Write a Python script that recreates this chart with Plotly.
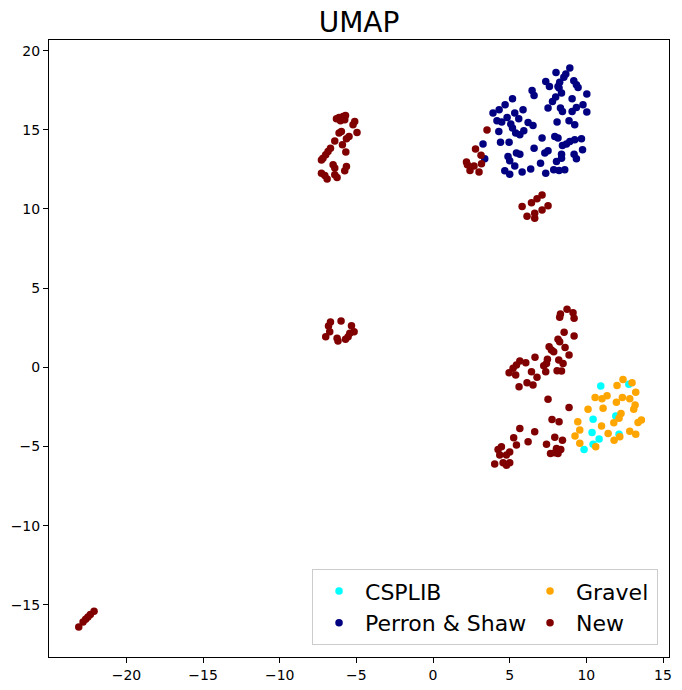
import plotly.graph_objects as go

# UMAP embedding coordinates
csplib_x = [10.94, 12.77, 10.44, 11.92, 10.37, 10.83, 10.44, 9.85, 12.13]
csplib_y = [-1.18, -1.06, -3.27, -3.08, -4.11, -4.53, -4.85, -5.18, -4.22]

perron_x = [8.92, 8.66, 8.53, 8.02, 7.35, 8.26, 8.15, 8.22, 7.59, 9.18,
            9.35, 9.46, 6.46, 6.59, 8.38, 8.00, 7.79, 10.03, 5.18, 9.07,
            9.78, 9.35, 9.07, 10.03, 7.50, 8.31, 8.44, 4.70, 4.31, 3.91,
            5.87, 5.33, 4.83, 5.59, 4.17, 4.48, 5.07, 5.18, 6.20, 6.52,
            8.09, 8.87, 9.24, 4.29, 5.39, 5.66, 5.92, 3.26, 4.40, 4.96,
            7.11, 7.94, 8.15, 9.68, 9.24, 8.92, 8.70, 8.44, 6.59, 7.50,
            7.29, 9.75, 5.44, 5.66, 4.89, 5.00, 8.38, 8.38, 9.20, 9.35,
            3.37, 8.05, 7.01, 5.33, 6.37, 5.81, 4.68, 5.00, 7.35, 7.87,
            8.22, 8.59]
perron_y = [18.90, 18.52, 18.31, 18.62, 18.05, 18.01, 17.74, 17.64, 17.74, 18.10,
            17.84, 17.67, 17.48, 17.17, 17.32, 17.07, 16.79, 17.26, 16.96, 16.96,
            16.58, 16.41, 16.16, 16.12, 16.37, 16.37, 16.16, 16.58, 16.26, 16.06,
            16.26, 16.06, 15.78, 15.70, 15.57, 15.49, 15.36, 15.11, 15.46, 15.27,
            15.49, 15.57, 15.32, 14.89, 14.79, 14.68, 14.94, 14.10, 14.22, 14.22,
            14.48, 14.58, 14.48, 14.43, 14.37, 14.26, 14.10, 14.01, 13.84, 13.67,
            13.53, 13.74, 13.53, 13.46, 13.31, 13.04, 13.46, 13.21, 13.46, 13.17,
            13.17, 13.00, 12.89, 12.72, 12.53, 12.33, 12.41, 12.20, 12.26, 12.47,
            12.43, 12.47]

gravel_x = [12.39, 12.98, 12.00, 13.22, 10.57, 11.02, 11.35, 12.35, 12.83, 11.96,
            13.18, 13.09, 11.09, 10.11, 12.26, 12.13, 9.44, 11.79, 13.59, 13.37,
            10.99, 9.57, 11.42, 12.83, 13.22, 9.26, 12.18, 11.81, 9.57, 10.61]
gravel_y = [-0.76, -0.97, -1.14, -1.58, -1.90, -1.98, -1.80, -1.90, -1.98, -2.21,
            -2.38, -2.65, -2.59, -2.65, -2.91, -3.22, -3.44, -3.50, -3.33, -3.48,
            -3.71, -3.96, -4.17, -4.03, -4.22, -4.34, -4.39, -4.60, -4.80, -5.02]

new_x = [
    # near the Perron & Shaw cloud
    3.52, 2.77, 3.13, 2.18, 2.24, 2.67, 3.16, 2.41, 3.00,
    7.11, 6.78, 6.42, 5.81, 7.50, 7.11, 6.63, 6.63, 6.13,
    # left cluster
    -6.13, -5.87, -5.71, -5.76, -6.30, -6.04, -5.11, -5.22, -4.96, -6.13,
    -5.98, -5.48, -5.65, -6.41, -5.91, -5.69, -6.69, -6.85, -7.00, -7.18,
    -7.28, -6.52, -6.41, -5.65, -5.76, -7.28, -7.06, -6.91, -6.41, -6.26,
    # middle cluster
    -6.69, -6.82, -6.74, -7.00, -6.00, -5.32, -5.15, -5.43, -5.54, -5.71,
    -6.26, -6.20,
    # lower right arm
    8.74, 9.13, 8.31, 8.26, 9.20, 8.55, 9.20, 8.15, 8.26, 8.61,
    7.57, 7.72, 7.87, 8.87, 6.65, 7.46, 7.40, 7.22, 8.20, 8.48,
    5.66, 6.05, 5.44, 5.22, 4.96, 5.39, 6.42, 6.78, 7.35, 8.09,
    8.38, 5.61, 6.13, 6.52, 7.50, 8.87, 7.76, 8.22, 5.66, 6.63,
    5.26, 6.20, 7.94, 8.44, 5.44, 7.40, 8.05, 8.33, 8.15, 7.94,
    7.66, 4.46, 4.24, 4.35, 5.00, 4.79, 4.02, 4.57, 4.79, 5.00,
    # far bottom left
    -23.11, -22.83, -22.66, -22.51, -22.35, -22.11,
]
new_y = [
    14.98, 13.78, 13.40, 12.96, 12.79, 12.72, 12.85, 12.43, 12.33,
    10.89, 10.64, 10.40, 10.15, 10.20, 9.94, 9.73, 9.42, 9.54,
    15.78, 15.84, 15.90, 15.63, 15.70, 15.57, 15.52, 15.32, 14.83, 14.79,
    14.89, 14.58, 14.43, 14.30, 14.05, 13.59, 13.84, 13.63, 13.42, 13.21,
    13.10, 12.79, 12.58, 12.68, 12.41, 12.26, 12.11, 11.90, 12.16, 11.98,
    2.86, 2.61, 2.25, 1.93, 2.93, 2.63, 2.25, 2.15, 1.93, 1.77,
    1.83, 1.66,
    3.67, 3.45, 3.37, 3.16, 3.10, 2.21, 1.98, 1.77, 1.62, 1.26,
    1.30, 1.09, 0.99, 0.78, 0.63, 0.51, 0.25, 0.10, 0.46, 0.25,
    0.40, 0.29, 0.15, -0.06, -0.34, -0.49, -0.28, -0.63, -0.28, -0.21,
    -0.23, -1.23, -0.97, -1.12, -2.02, -2.53, -3.29, -3.44, -3.86, -4.07,
    -4.45, -4.70, -4.42, -4.60, -4.91, -4.85, -5.12, -5.18, -5.44, -5.40,
    -5.44, -5.02, -5.18, -5.54, -5.34, -5.54, -6.11, -6.03, -6.18, -6.03,
    -16.40, -16.08, -15.91, -15.76, -15.61, -15.40,
]

x_ticks = [-20, -15, -10, -5, 0, 5, 10, 15]
y_ticks = [-15, -10, -5, 0, 5, 10, 15, 20]

# name, x, y, colour, legend rank (legend fills column by column), legend width
groups = [
    ("CSPLIB", csplib_x, csplib_y, "cyan", 1, 154),
    ("Perron & Shaw", perron_x, perron_y, "navy", 3, 154),
    ("Gravel", gravel_x, gravel_y, "orange", 2, 76),
    ("New", new_x, new_y, "maroon", 4, 76),
]


def tick_text(vals):
    return [str(v).replace("-", "\u2212") for v in vals]


fig = go.Figure()
for name, xs, ys, color, rank, lw in groups:
    fig.add_trace(go.Scatter(
        x=xs, y=ys, mode="markers", name=name,
        marker=dict(color=color, size=7.5, line=dict(width=0)),
        legendrank=rank, legendwidth=lw,
    ))

axis_style = dict(
    showgrid=False, zeroline=False, automargin=False,
    showline=True, mirror=True, linecolor="black", linewidth=1,
    ticks="outside", ticklen=5, tickwidth=1, tickcolor="black",
    tickfont=dict(family="DejaVu Sans", size=14, color="black"),
)

fig.update_layout(
    width=682, height=690, autosize=False,
    margin=dict(l=49, r=13, t=40, b=33),
    paper_bgcolor="white", plot_bgcolor="white",
    font=dict(family="DejaVu Sans", color="black"),
    title=dict(text="UMAP", x=0.5, xref="paper", xanchor="center",
               y=1, yref="paper", yanchor="bottom", pad=dict(b=8),
               automargin=False,
               font=dict(family="DejaVu Sans", size=28, color="black")),
    legend=dict(
        orientation="h", x=0.9823, y=0.019, xanchor="right", yanchor="bottom",
        bgcolor="rgba(255,255,255,0.8)", bordercolor="#cccccc", borderwidth=1,
        font=dict(family="DejaVu Sans", size=22, color="black"),
        itemwidth=42,
    ),
)
fig.update_xaxes(range=[-25.05, 15.39], tickvals=x_ticks,
                 ticktext=tick_text(x_ticks), **axis_style)
fig.update_yaxes(range=[-18.29, 20.67], tickvals=y_ticks,
                 ticktext=tick_text(y_ticks), **axis_style)

# drop the default page margin so the figure fills the window exactly
fig.write_html("out.html", config={"displayModeBar": False},
               post_script="document.body.style.margin = '0';")
